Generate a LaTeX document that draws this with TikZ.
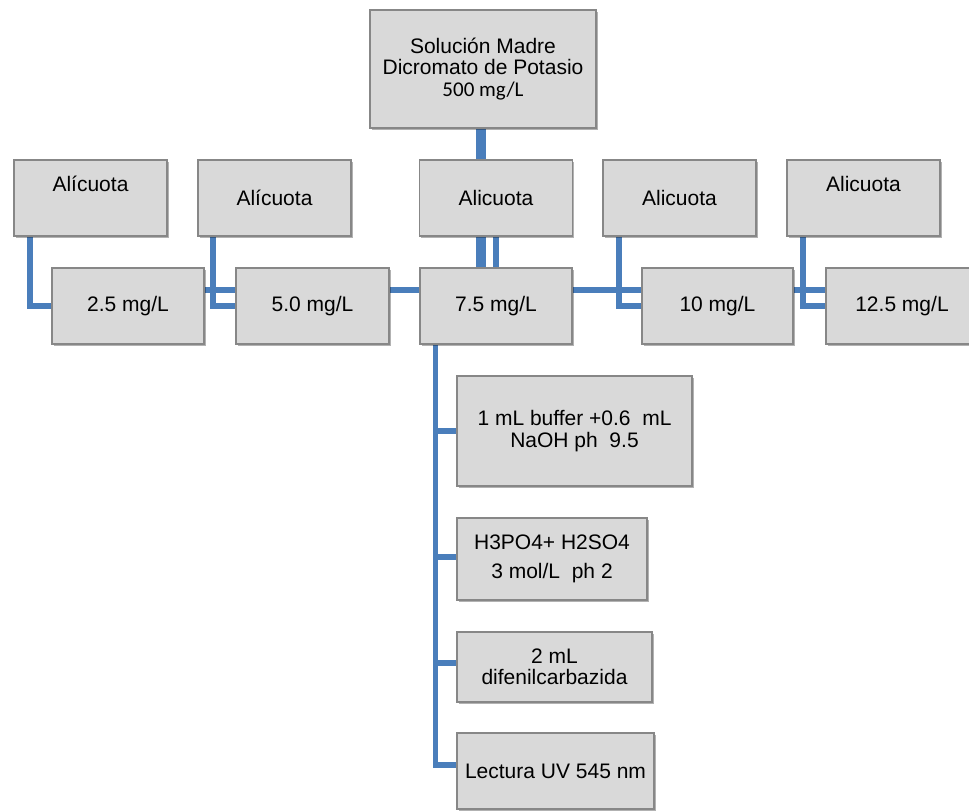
\documentclass[tikz,border=0pt]{standalone}
\usepackage{fontspec}
\setmainfont{Liberation Sans}
\newfontfamily\calibri{Carlito}
\usetikzlibrary{shadows,backgrounds}

\definecolor{boxfill}{RGB}{217,217,217}
\definecolor{boxline}{RGB}{135,135,135}
\definecolor{linkblue}{RGB}{74,126,187}

\tikzset{
  stepbox/.style={draw=boxline, line width=1.3pt, fill=boxfill,
    minimum width=153pt, minimum height=76pt, align=center,
    font=\fontsize{21}{21.5}\selectfont, inner sep=2pt,
    drop shadow={shadow xshift=1.5pt, shadow yshift=-2pt, opacity=0.3, fill=black}},
  raised/.style={text height=16pt, text depth=30pt},
  link/.style={draw=linkblue, line width=5.5pt},
  trunk/.style={draw=linkblue, line width=10pt}
}

\begin{document}
\begin{tikzpicture}[x=1pt,y=-1pt]
  \useasboundingbox (0,0) rectangle (969,811);

  % stock solution
  \node[stepbox, minimum width=226pt, minimum height=118pt] (top) at (483,69)
    {Solución Madre\\Dicromato de Potasio\\{\calibri 500 mg/L}};

  % aliquots
  \node[stepbox, raised] (a1) at (90.5,198) {Alícuota};
  \node[stepbox] (a2) at (274.5,198) {Alícuota};
  \node[stepbox] (a3) at (496,198) {Alicuota};
  \node[stepbox] (a4) at (679.5,198) {Alicuota};
  \node[stepbox, raised] (a5) at (863.5,198) {Alicuota};

  % concentrations
  \node[stepbox, minimum width=152pt] (c1) at (128,306) {2.5 mg/L};
  \node[stepbox] (c2) at (312.5,306) {5.0 mg/L};
  \node[stepbox, minimum width=152pt] (c3) at (496,306) {7.5 mg/L};
  \node[stepbox, minimum width=151pt] (c4) at (717.5,306) {10 mg/L};
  \node[stepbox, minimum width=152pt] (c5) at (902,306) {12.5 mg/L};

  % procedure
  \node[stepbox, minimum width=235pt, minimum height=110pt] (b1) at (574.5,431)
    {1 mL buffer +0.6~ mL\\NaOH ph~ 9.5};
  \node[stepbox, minimum width=190pt, minimum height=82pt] (b2) at (552,559)
    {H3PO4+ H2SO4\\[8pt]3 mol/L~ ph 2};
  \node[stepbox, minimum width=195pt, minimum height=70pt] (b3) at (554.5,667)
    {2 mL\\difenilcarbazida};
  \node[stepbox, minimum width=197pt] (b4) at (555.5,771) {Lectura UV 545 nm};

  \begin{pgfonlayer}{background}
    % main trunk
    \draw[trunk] ([xshift=-2pt]top.south) -- ([xshift=-2pt]top.south |- a3.north);
    \draw[trunk] ([xshift=-15pt]a3.south) -- ([xshift=-15pt]c3.north);
    \draw[link] (a3.south) -- (c3.north);

    % row of concentrations
    \draw[link] ([yshift=16pt]c1.east) -- ([yshift=16pt]c2.west);
    \draw[link] ([yshift=16pt]c2.east) -- ([yshift=16pt]c3.west);
    \draw[link] ([yshift=16pt]c3.east) -- ([yshift=16pt]c4.west);
    \draw[link] ([yshift=16pt]c4.east) -- ([yshift=16pt]c5.west);

    % aliquot to concentration elbows
    \draw[link] ([xshift=-60.5pt]a1.south) |- (c1.west);
    \draw[link] ([xshift=-61.5pt]a2.south) |- (c2.west);
    \draw[link] ([xshift=-60.5pt]a4.south) |- (c4.west);
    \draw[link] ([xshift=-60.5pt]a5.south) |- (c5.west);

    % procedure spine
    \draw[link] ([xshift=-60.5pt]c3.south) |- (b1.west);
    \draw[link] ([xshift=-60.5pt]c3.south) |- ([yshift=2pt]b2.west);
    \draw[link] ([xshift=-60.5pt]c3.south) |- ([yshift=4pt]b3.west);
    \draw[link] ([xshift=-60.5pt]c3.south) |- ([yshift=6pt]b4.west);
  \end{pgfonlayer}
\end{tikzpicture}
\end{document}
